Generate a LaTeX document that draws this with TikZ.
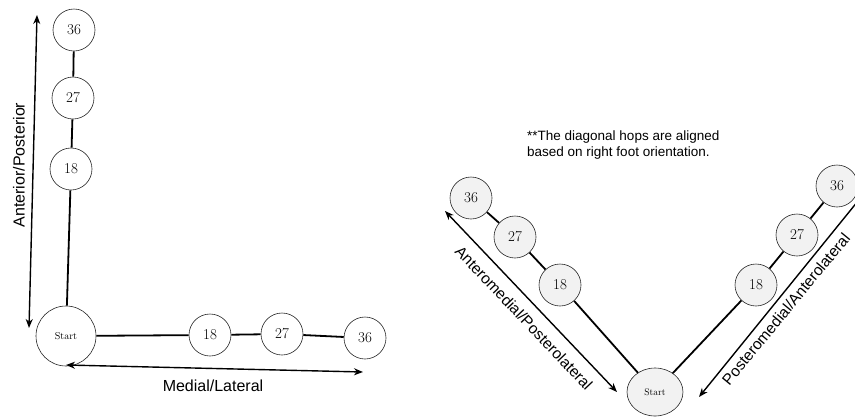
\documentclass[tikz,border=0pt]{standalone}
\usepackage{fontspec}
\newfontfamily\arialf{Liberation Sans}
\usetikzlibrary{arrows.meta,shapes.geometric}
\begin{document}
\begin{tikzpicture}[x=1pt,y=-1pt,
  hop/.style={circle,draw=black!85,line width=0.6pt,fill=white,inner sep=0pt,minimum size=42pt,font=\fontsize{15}{15}\selectfont},
  hopg/.style={hop,fill=black!5},
  startnode/.style={hop,minimum size=60pt,font=\fontsize{10}{10}\selectfont},
  startg/.style={ellipse,draw=black!85,line width=0.6pt,fill=black!5,inner sep=0pt,minimum width=56pt,minimum height=48pt,font=\fontsize{9.5}{9.5}\selectfont},
  link/.style={line width=1.8pt},
  axisarrow/.style={line width=1.4pt,{Stealth[length=9pt,width=7pt]}-{Stealth[length=9pt,width=7pt]}},
  onearrow/.style={line width=1.4pt,-{Stealth[length=9pt,width=7pt]}},
  lab/.style={font=\arialf\fontsize{16}{16}\selectfont,inner sep=0pt},
  dlab/.style={font=\arialf\fontsize{15.5}{15.5}\selectfont,inner sep=0pt}]
\useasboundingbox (0,0) rectangle (855,416);
% ---------- left diagram ----------
\node[startnode] (s1) at (66,336) {Start};
\node[hop] (a18) at (71,169) {18};
\node[hop] (a27) at (73,98) {27};
\node[hop] (a36) at (74,30) {36};
\node[hop] (m18) at (210,335) {18};
\node[hop] (m27) at (282,334) {27};
\node[hop] (m36) at (365,338) {36};
\draw[link] (s1) -- (a18);
\draw[link] (a18) -- (a27);
\draw[link] (a27) -- (a36);
\draw[link] (s1) -- (m18);
\draw[link] (m18) -- (m27);
\draw[link] (m27) -- (m36);
\coordinate (apT) at (37,15);
\coordinate (apB) at (29,328);
\draw[axisarrow] (apT) -- (apB);
\node[lab,rotate=90] (aplab) at (19,165) {Anterior/Posterior};
\coordinate (mlL) at (66,365);
\coordinate (mlR) at (363,372);
\draw[axisarrow] (mlL) -- (mlR);
\node[lab] (mllab) at (213,386) {Medial/Lateral};
% ---------- right diagram ----------
\node[startg] (s2) at (655,392) {Start};
\node[hopg] (l18) at (560,285) {18};
\node[hopg] (l27) at (515,237) {27};
\node[hopg] (l36) at (471,198) {36};
\node[hopg] (r18) at (756,285) {18};
\node[hopg] (r27) at (797,235) {27};
\node[hopg] (r36) at (837,186) {36};
\draw[link] (s2) -- (l18);
\draw[link] (l18) -- (l27);
\draw[link] (l27) -- (l36);
\draw[link] (s2) -- (r18);
\draw[link] (r18) -- (r27);
\draw[link] (r27) -- (r36);
\coordinate (dlT) at (445,211);
\coordinate (dlB) at (617,392);
\draw[axisarrow] (dlT) -- (dlB);
\node[dlab,rotate=-46.5] (dllab) at (524,318) {Anteromedial/Posterolateral};
\coordinate (drT) at (858,201);
\coordinate (drB) at (699,397);
\draw[onearrow] (drT) -- (drB);
\node[dlab,rotate=50.5] (drlab) at (786,309) {Posteromedial/Anterolateral};
\node[anchor=north west,align=left,inner sep=0pt,font=\arialf\fontsize{13.5}{15.5}\selectfont] (note) at (527,131)
  {**The diagonal hops are aligned\\based on right foot orientation.};
\end{tikzpicture}
\end{document}
